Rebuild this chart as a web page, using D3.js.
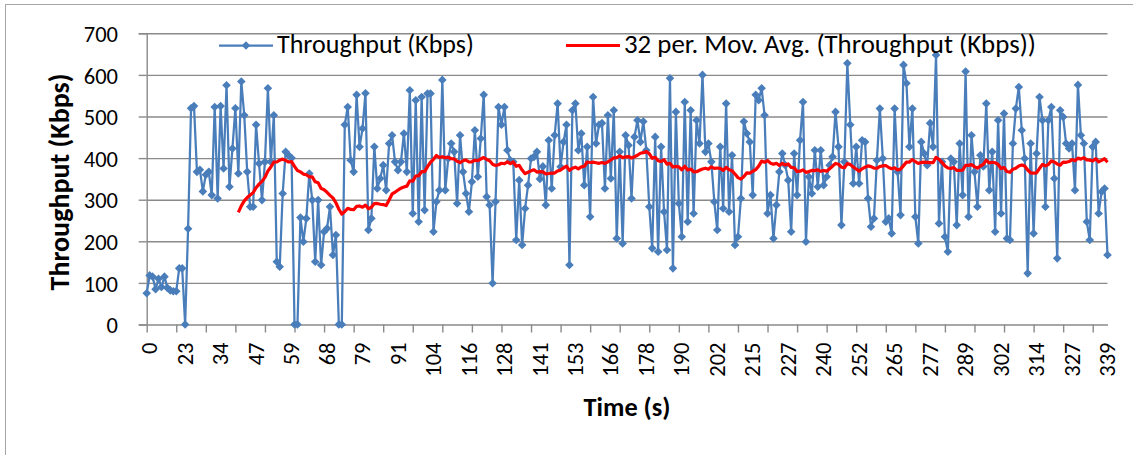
<!DOCTYPE html>
<html>
<head>
<meta charset="utf-8">
<script src="https://cdn.jsdelivr.net/npm/d3@7"></script>
<style>
  body { margin: 0; background: #fff; }
  text { font-family: Carlito, Calibri, Lato, sans-serif; fill: #000; }
</style>
</head>
<body>
<div id="chart"></div>
<script>

const timeLabels = ["0", "23", "34", "47", "59", "68", "79", "91", "104", "116", "128", "141", "153", "166",
    "178", "190", "202", "215", "227", "240", "252", "265", "277", "289", "302", "314", "327", "339"];

const throughput = [
    75, 118, 115, 85, 110, 90, 115, 88, 82, 80, 80, 135, 135,
    0,
    230, 520, 525, 367, 372, 320, 360, 367, 311, 523, 303, 525, 375, 575, 331, 423, 520, 363, 584, 503,
    367, 283, 283, 480, 387, 299, 391, 568, 391, 503, 151, 139, 315, 415, 407, 400,
    0, 0,
    257, 199, 255, 363, 299, 151, 299, 143, 223, 231, 283, 167, 215,
    0, 0,
    480, 523, 395, 367, 552, 427, 471, 556, 227, 255, 427, 327, 351, 383, 323, 435, 455, 391, 371, 391,
    459, 367, 563, 267, 539, 247, 547, 275, 555, 555, 223, 295, 323, 588, 323, 399, 435, 415, 291, 455,
    367, 315, 271, 343, 467, 355, 447, 552, 307, 287, 99, 295, 523, 480, 523, 419, 395, 391, 203, 347,
    191, 279, 335,
    399, 403, 415, 350, 380, 287, 443, 327, 455, 531, 379, 439, 480, 143, 515, 531, 419, 459, 335, 427,
    259, 547, 435, 480, 484, 327, 503, 351, 515, 207, 415, 195, 455, 431, 303, 451, 491, 439, 488, 419,
    283, 183, 451, 175, 427, 271, 179, 592, 135, 511, 291, 211, 535, 247, 515, 267, 491, 435, 600, 415,
    435, 391, 295, 227, 427, 279, 531, 271,
    407, 191, 211, 303, 488, 459, 439, 311, 552, 539, 568, 503, 267, 311, 207, 287, 367, 411, 383, 347,
    223, 411, 311, 443, 535, 199, 355, 315, 419, 331, 419, 335, 355, 383, 403, 511, 427, 239, 391, 628,
    480, 339, 427, 339, 443, 439, 303, 235, 255, 395, 519, 399, 247, 255, 219, 519, 367, 263, 624, 580,
    427,
    519, 259, 195, 439, 411, 383, 484, 427, 648, 243, 391, 211, 175, 399, 391, 239, 435, 311, 608, 259,
    455, 367, 283, 407, 380, 531, 323, 415, 223, 491, 267, 507, 207, 203, 435, 519, 571, 467, 399, 123,
    435, 219, 411, 547, 491, 283, 491, 523, 351, 159, 515, 499, 435, 423, 435, 323, 576, 455, 435, 247,
    203, 427, 439, 267, 319, 327, 167
];

const seriesNames = ["Throughput (Kbps)", "32 per. Mov. Avg. (Throughput (Kbps))"];
const yTicks = [0, 100, 200, 300, 400, 500, 600, 700];
const maPeriod = 32;
const labelEvery = 12;
const tickEvery = 10;

const blue = "#4a7ebb";
const red = "#ff0000";
const gridColor = "#8a8a8a";

const W = 1133, H = 455;
const plot = {left: 146.7, right: 1107.5, top: 33.3, bottom: 324.5};

const movingAvg = (data, p) => data.map((d, i) => i < p - 1 ? null : d3.mean(data.slice(i - p + 1, i + 1)));

// shrink/grow a text so it covers the width measured on the picture
const fitWidth = (sel, w) => {
    const len = sel.node().getComputedTextLength();
    sel.attr("font-size", parseFloat(sel.attr("font-size")) * w / len);
};

const diamond = r => `M0,${-r}L${r},0L0,${r}L${-r},0Z`;

const svg = d3.select("#chart")
    .append("svg")
    .attr("width", W)
    .attr("height", H);

// chart area border
svg.append("rect")
    .attr("x", 5.5).attr("y", 4.5)
    .attr("width", 1200).attr("height", 500)
    .attr("fill", "none")
    .attr("stroke", "#a6a6a6")
    .attr("stroke-width", 1);

const x = d3.scaleLinear().domain([0, throughput.length - 1]).range([plot.left, plot.right]);
const y = d3.scaleLinear().domain([0, 700]).range([plot.bottom, plot.top]);

// gridlines
svg.append("g")
    .attr("transform", `translate(${plot.left},0)`)
    .call(d3.axisLeft(y).tickValues(yTicks.slice(1)).tickSize(-(plot.right - plot.left)).tickFormat(""))
    .call(g => g.select(".domain").remove())
    .call(g => g.selectAll("line").attr("stroke", gridColor).attr("stroke-width", 1.4));

// y axis
svg.append("g")
    .attr("transform", `translate(${plot.left},0)`)
    .call(d3.axisLeft(y).tickValues(yTicks).tickSize(8).tickPadding(20))
    .call(g => g.select(".domain").attr("stroke", gridColor).attr("stroke-width", 1.4))
    .call(g => g.selectAll("line").attr("stroke", gridColor).attr("stroke-width", 1.4))
    .call(g => g.selectAll("text")
        .attr("font-size", 22.5)
        .attr("font-family", "Carlito, Calibri, Lato, sans-serif")
        .attr("fill", "#000")
        .attr("x", 118 - plot.left)
        .attr("dy", "0.36em"));

// x axis ticks
const xTickIdx = d3.range(0, throughput.length, tickEvery);
svg.append("g")
    .attr("transform", `translate(0,${plot.bottom})`)
    .call(d3.axisBottom(x).tickValues(xTickIdx).tickSize(8).tickFormat("").tickSizeOuter(0))
    .call(g => g.select(".domain").attr("stroke", gridColor).attr("stroke-width", 1.4))
    .call(g => g.selectAll("line").attr("stroke", gridColor).attr("stroke-width", 1.4));

// x axis labels
const xLabelIdx = timeLabels.map((t, j) => j * labelEvery);
svg.append("g")
    .attr("transform", `translate(0,${plot.bottom})`)
    .call(d3.axisBottom(x).tickValues(xLabelIdx).tickSize(0).tickFormat((d, j) => timeLabels[j]))
    .call(g => g.select(".domain").remove())
    .call(g => g.selectAll("text")
        .attr("font-size", 22.5)
        .attr("font-family", "Carlito, Calibri, Lato, sans-serif")
        .attr("fill", "#000")
        .attr("text-anchor", "end")
        .attr("transform", "translate(2,0) rotate(-90)")
        .attr("x", -18)
        .attr("y", 0)
        .attr("dy", "0.36em"));

// throughput series
svg.append("path")
    .datum(throughput)
    .attr("fill", "none")
    .attr("stroke", blue)
    .attr("stroke-width", 2.25)
    .attr("stroke-linejoin", "round")
    .attr("d", d3.line().x((d, i) => x(i)).y(d => y(d)));

svg.append("g")
    .selectAll("path")
    .data(throughput)
    .join("path")
    .attr("transform", (d, i) => `translate(${x(i)},${y(d)})`)
    .attr("d", diamond(4.3))
    .attr("fill", blue);

// moving average trendline
const ma = movingAvg(throughput, maPeriod);
svg.append("path")
    .datum(ma)
    .attr("fill", "none")
    .attr("stroke", red)
    .attr("stroke-width", 3.2)
    .attr("stroke-linejoin", "round")
    .attr("d", d3.line().defined(d => d !== null).x((d, i) => x(i)).y(d => y(d)));

// legend
const legY = 45.5;
svg.append("line")
    .attr("x1", 219).attr("x2", 273).attr("y1", legY).attr("y2", legY)
    .attr("stroke", blue).attr("stroke-width", 2.25);
svg.append("path")
    .attr("transform", `translate(246,${legY})`)
    .attr("d", diamond(4.3))
    .attr("fill", blue);
const leg1 = svg.append("text")
    .attr("x", 277).attr("y", legY + 7.8)
    .attr("font-size", 24)
    .text(seriesNames[0]);
fitWidth(leg1, 197);

svg.append("line")
    .attr("x1", 566).attr("x2", 620).attr("y1", legY).attr("y2", legY)
    .attr("stroke", red).attr("stroke-width", 3.2);
const leg2 = svg.append("text")
    .attr("x", 624).attr("y", legY + 7.8)
    .attr("font-size", 24)
    .text(seriesNames[1]);
fitWidth(leg2, 412);

// axis titles
const yTitle = svg.append("text")
    .attr("transform", "translate(59,182) rotate(-90)")
    .attr("text-anchor", "middle")
    .attr("dy", "0.36em")
    .attr("font-weight", "bold")
    .attr("font-size", 24)
    .text("Throughput (Kbps)");
fitWidth(yTitle, 217);

const xTitle = svg.append("text")
    .attr("x", 627).attr("y", 416)
    .attr("text-anchor", "middle")
    .attr("font-weight", "bold")
    .attr("font-size", 24)
    .text("Time (s)");
fitWidth(xTitle, 87);

</script>
</body>
